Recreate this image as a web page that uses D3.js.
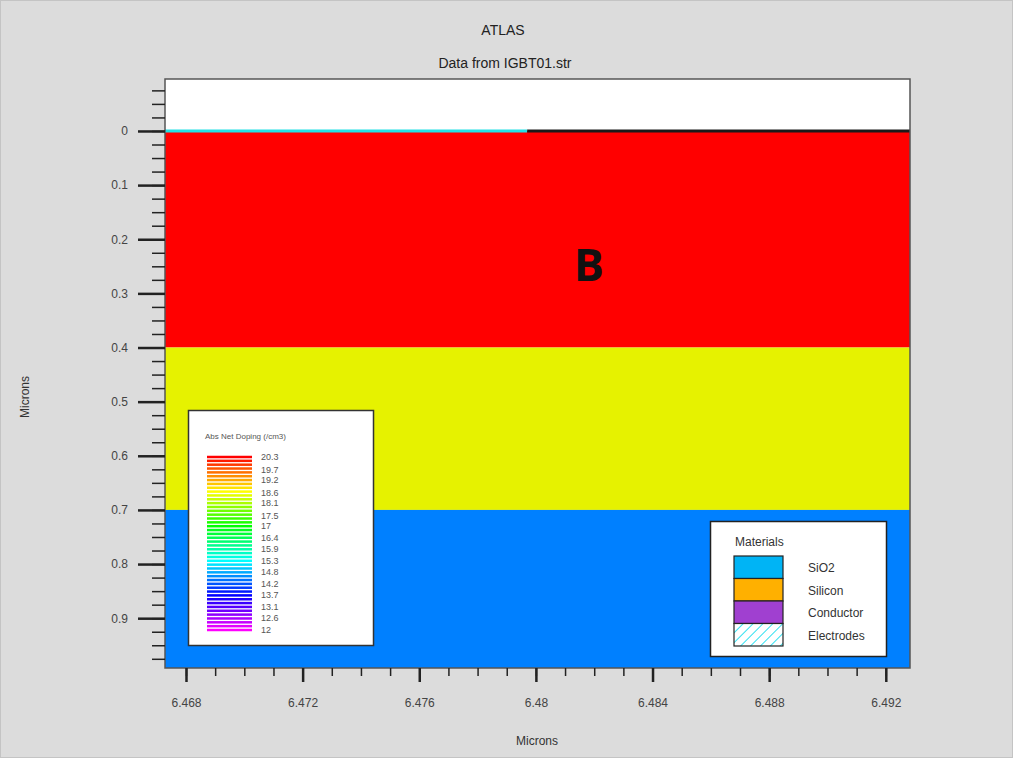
<!DOCTYPE html>
<html><head><meta charset="utf-8">
<script src="https://cdn.jsdelivr.net/npm/d3@7"></script>
<style>body{margin:0;background:#dcdcdc;}svg{display:block;font-family:"Liberation Sans",Arial,sans-serif;}</style>
</head><body><svg id="c" width="1013" height="758"></svg>
<script>
// ---- data ----
const xDomain = [6.46728, 6.49283];
const yDomain = [-0.096, 0.992];
const xMajorTicks = [6.468, 6.472, 6.476, 6.48, 6.484, 6.488, 6.492];
const yMajorTicks = [0, 0.1, 0.2, 0.3, 0.4, 0.5, 0.6, 0.7, 0.8, 0.9];
const layerTop = [0, 0.4, 0.7];
const layerBottom = [0.4, 0.7, 0.992];
const layerNames = ["top", "mid", "bottom"];
const electrodeSpan = [6.46728, 6.4797];
const dopingLabels = [20.3, 19.7, 19.2, 18.6, 18.1, 17.5, 17, 16.4, 15.9, 15.3, 14.8, 14.2, 13.7, 13.1, 12.6, 12];
const materials = ["SiO2", "Silicon", "Conductor", "Electrodes"];
const regionLabel = {text: "B", x: 6.48182, y: 0.245};

// ---- styles ----
const layerColor = {top: "#ff0000", mid: "#e6f200", bottom: "#0080ff"};
const materialColor = {SiO2: "#00b4f5", Silicon: "#ffb000", Conductor: "#a040d0"};

const svg = d3.select("#c");
svg.append("rect").attr("x",0.5).attr("y",0.5).attr("width",1012).attr("height",757)
  .attr("fill","#dcdcdc").attr("stroke","#c4c4c4");

const L = 165, R = 910, T = 79, B = 668;
const x = d3.scaleLinear().domain(xDomain).range([L, R]);
const y = d3.scaleLinear().domain(yDomain).range([T, B]);

// titles
svg.append("text").attr("x",503).attr("y",35).attr("text-anchor","middle").attr("font-size",14).attr("fill","#222").text("ATLAS");
svg.append("text").attr("x",505).attr("y",68).attr("text-anchor","middle").attr("font-size",14).attr("fill","#222").text("Data from IGBT01.str");

// plot background
svg.append("rect").attr("x",L).attr("y",T).attr("width",R-L).attr("height",B-T).attr("fill","#ffffff");

// layers
svg.append("g").selectAll("rect").data(layerNames).join("rect")
  .attr("x", x(xDomain[0])).attr("width", x(xDomain[1]) - x(xDomain[0]))
  .attr("y", (d,i) => y(layerTop[i])).attr("height", (d,i) => y(layerBottom[i]) - y(layerTop[i]))
  .attr("fill", d => layerColor[d]);

// surface lines
svg.append("line").attr("x1", x(electrodeSpan[0])).attr("x2", x(electrodeSpan[1]))
  .attr("y1", y(0)).attr("y2", y(0)).attr("stroke","#22e0e6").attr("stroke-width",3);
svg.append("line").attr("x1", x(electrodeSpan[1])).attr("x2", x(xDomain[1]))
  .attr("y1", y(0)).attr("y2", y(0)).attr("stroke","#1a1a1a").attr("stroke-width",3);

// region label
svg.append("text").attr("x", x(regionLabel.x)).attr("y", y(regionLabel.y))
  .attr("text-anchor","middle").attr("dominant-baseline","central")
  .attr("font-family","'Open Sans','Noto Sans',sans-serif").attr("font-weight","bold")
  .attr("font-size",45).attr("fill","#111").text(regionLabel.text);

// frame
svg.append("rect").attr("x",L).attr("y",T).attr("width",R-L).attr("height",B-T)
  .attr("fill","none").attr("stroke","#555").attr("stroke-width",1.5);

// axes
const xMinor = d3.range(6.468, 6.4925, 0.001).map(v => +v.toFixed(3));
const yMinor = d3.range(-0.075, 0.99, 0.025).map(v => +v.toFixed(3));

function styleAxis(g, w){
  g.select(".domain").remove();
  g.selectAll(".tick line").attr("stroke","#222").attr("stroke-width",w);
  g.selectAll("text").attr("font-size",12).attr("fill","#444").attr("font-family","'Liberation Sans',Arial,sans-serif");
}
svg.append("g").attr("transform",`translate(0,${B})`)
  .call(d3.axisBottom(x).tickValues(xMinor).tickSize(8).tickFormat(""))
  .call(g => styleAxis(g,1.5));
svg.append("g").attr("transform",`translate(0,${B})`)
  .call(d3.axisBottom(x).tickValues(xMajorTicks).tickSize(14).tickPadding(16).tickFormat(d => String(+d.toFixed(3))))
  .call(g => styleAxis(g,2.5));
svg.append("g").attr("transform",`translate(${L},0)`)
  .call(d3.axisLeft(y).tickValues(yMinor).tickSize(13).tickFormat(""))
  .call(g => styleAxis(g,1.5));
svg.append("g").attr("transform",`translate(${L},0)`)
  .call(d3.axisLeft(y).tickValues(yMajorTicks).tickSize(27).tickPadding(10).tickFormat(d => String(+d.toFixed(1))))
  .call(g => styleAxis(g,2.5));

// axis titles
svg.append("text").attr("x",537).attr("y",745).attr("text-anchor","middle").attr("font-size",12).attr("fill","#333").text("Microns");
svg.append("text").attr("transform","translate(29,397) rotate(-90)").attr("text-anchor","middle").attr("font-size",12).attr("fill","#333").text("Microns");

// doping legend
const lg = svg.append("g");
lg.append("rect").attr("x",188.5).attr("y",410.5).attr("width",185).attr("height",235)
  .attr("fill","#fff").attr("stroke","#333").attr("stroke-width",1.5);
lg.append("text").attr("x",205).attr("y",439).attr("font-size",8).attr("fill","#555").text("Abs Net Doping (/cm3)");
const dMax = d3.max(dopingLabels), dMin = d3.min(dopingLabels);
const hue = d3.scaleLinear().domain([dMax, dMin]).range([0, 300]);
const ly = d3.scaleLinear().domain([dMax, dMin]).range([457, 630]);
const nStripes = (dopingLabels.length - 1) * 3 + 1;
const stripeVals = d3.range(nStripes).map(i => dMax - i * (dMax - dMin) / (nStripes - 1));
lg.selectAll("rect.s").data(stripeVals).join("rect").attr("class","s")
  .attr("x",207).attr("width",45)
  .attr("y", d => ly(d) - 1.25).attr("height",2.5)
  .attr("fill", d => d3.hsl(hue(d), 1, 0.5).toString());
lg.selectAll("text.l").data(dopingLabels).join("text").attr("class","l")
  .attr("x",261).attr("y", d => ly(d)).attr("dy","0.35em")
  .attr("font-size",9).attr("fill","#555").text(d => String(d));

// materials legend
const mg = svg.append("g");
mg.append("rect").attr("x",710.5).attr("y",521.5).attr("width",176).attr("height",135)
  .attr("fill","#fff").attr("stroke","#222").attr("stroke-width",1.5);
mg.append("text").attr("x",735).attr("y",546).attr("font-size",12).attr("fill","#333").text("Materials");
const defs = svg.append("defs");
const pat = defs.append("pattern").attr("id","hatch").attr("patternUnits","userSpaceOnUse")
  .attr("width",7).attr("height",7).attr("patternTransform","rotate(45)");
pat.append("rect").attr("width",7).attr("height",7).attr("fill","#fff");
pat.append("line").attr("x1",0).attr("y1",0).attr("x2",0).attr("y2",7).attr("stroke","#30e0f0").attr("stroke-width",2);
const my = d3.scaleBand().domain(materials).range([556, 646]);
mg.selectAll("rect.m").data(materials).join("rect").attr("class","m")
  .attr("x",734).attr("width",49).attr("y", d => my(d)).attr("height", my.bandwidth())
  .attr("fill", d => materialColor[d] || "url(#hatch)")
  .attr("stroke","#222").attr("stroke-width",1.2);
mg.selectAll("text.m").data(materials).join("text").attr("class","m")
  .attr("x",808).attr("y", d => my(d) + my.bandwidth()/2 + 1).attr("dy","0.35em")
  .attr("font-size",12).attr("fill","#333").text(d => d);
</script></body></html>
